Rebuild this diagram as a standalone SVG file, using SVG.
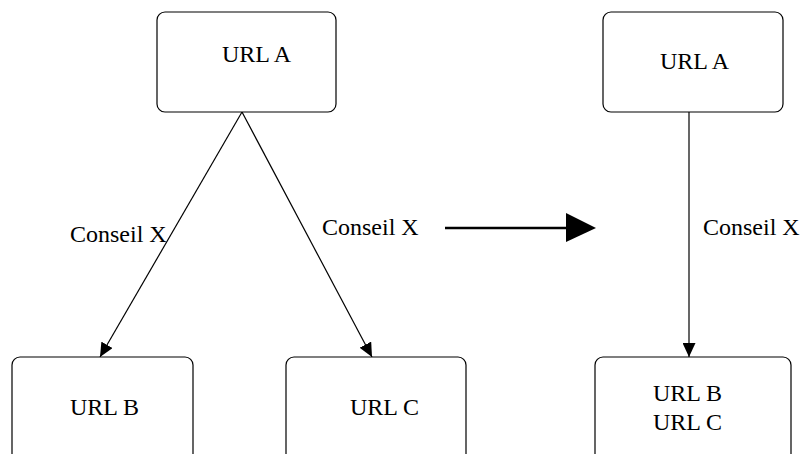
<svg xmlns="http://www.w3.org/2000/svg" width="805" height="454" viewBox="0 0 805 454">
<style>
.box{fill:#fff;stroke:#000;stroke-width:1.2}
.t{font-size:24px;fill:#000}
.c{fill:none;stroke:#000;stroke-width:1.2}
</style>
<defs>
<marker id="ah" markerUnits="userSpaceOnUse" markerWidth="14" markerHeight="13" refX="14" refY="6.5" orient="auto">
<path d="M0,0 L14,6.5 L0,13 z" fill="#000"/>
</marker>
</defs>
<rect width="805" height="454" fill="#fff"/>
<g font-family="'Liberation Serif', 'DejaVu Serif', serif">
<g id="connectors">
<line class="c" x1="242" y1="112" x2="100" y2="357" marker-end="url(#ah)"/>
<line class="c" x1="242" y1="112" x2="372" y2="357" marker-end="url(#ah)"/>
<line class="c" x1="689" y1="112" x2="689" y2="357" marker-end="url(#ah)"/>
<line x1="445" y1="228" x2="568" y2="228" stroke="#000" stroke-width="2.6"/>
<path d="M566,213 L596,228 L566,242 z" fill="#000"/>
<text class="t" x="70" y="242">Conseil X</text>
<text class="t" x="322" y="235">Conseil X</text>
<text class="t" x="703" y="235">Conseil X</text>
</g>
<g id="urlA-left">
<rect class="box" x="157" y="12" width="179" height="100" rx="8"/>
<text class="t" x="222" y="62">URL A</text>
</g>
<g id="urlB">
<rect class="box" x="12" y="357" width="181" height="120" rx="8"/>
<text class="t" x="70" y="415">URL B</text>
</g>
<g id="urlC">
<rect class="box" x="286" y="357" width="180" height="120" rx="8"/>
<text class="t" x="350" y="415">URL C</text>
</g>
<g id="urlA-right">
<rect class="box" x="603" y="12" width="180" height="100" rx="8"/>
<text class="t" x="660" y="69">URL A</text>
</g>
<g id="urlBC">
<rect class="box" x="595" y="357" width="196" height="120" rx="8"/>
<text class="t" x="653" y="401">URL B</text>
<text class="t" x="653" y="430">URL C</text>
</g>
</g>
</svg>
